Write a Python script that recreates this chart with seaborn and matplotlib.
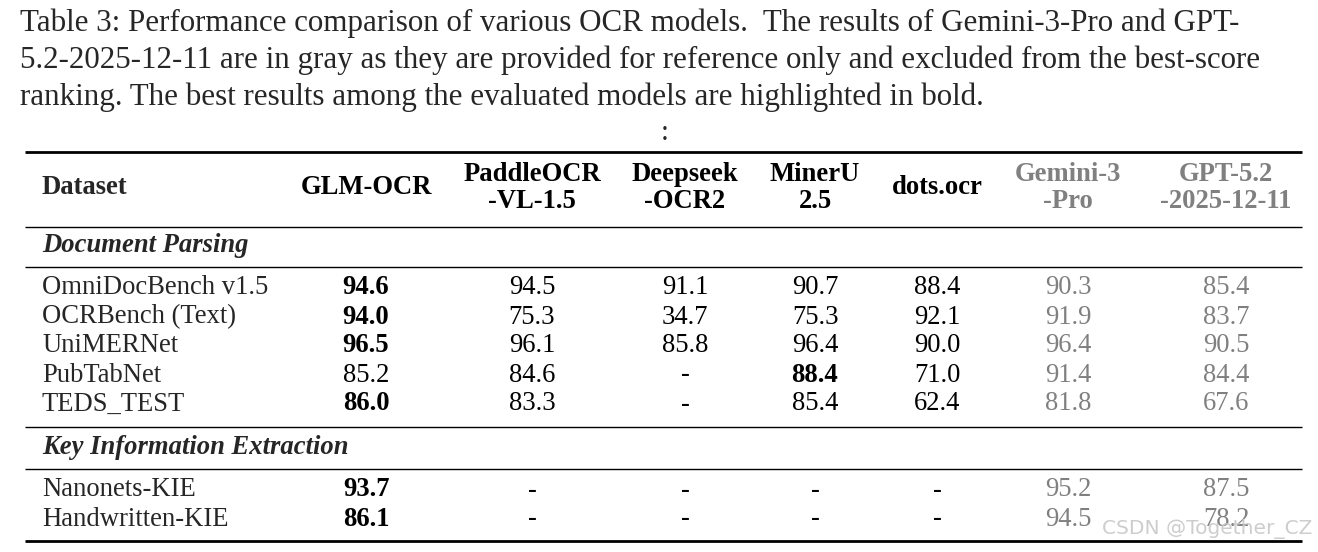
import matplotlib
matplotlib.use("Agg")
import matplotlib.pyplot as plt
import seaborn as sns

sns.set_style("white")
plt.rcParams["font.family"] = ["Liberation Serif", "DejaVu Serif"]

caption = [
    "Table 3: Performance comparison of various OCR models.  The results of Gemini-3-Pro and GPT-",
    "5.2-2025-12-11 are in gray as they are provided for reference only and excluded from the best-score",
    "ranking. The best results among the evaluated models are highlighted in bold.",
]
models = ["GLM-OCR", "PaddleOCR\n-VL-1.5", "Deepseek\n-OCR2", "MinerU\n2.5", "dots.ocr",
          "Gemini-3\n-Pro", "GPT-5.2\n-2025-12-11"]
reference_models = ["Gemini-3\n-Pro", "GPT-5.2\n-2025-12-11"]
sections = ["Document Parsing", "Key Information Extraction"]
doc_datasets = ["OmniDocBench v1.5", "OCRBench (Text)", "UniMERNet", "PubTabNet", "TEDS_TEST"]
doc_scores = [
    ["94.6", "94.5", "91.1", "90.7", "88.4", "90.3", "85.4"],
    ["94.0", "75.3", "34.7", "75.3", "92.1", "91.9", "83.7"],
    ["96.5", "96.1", "85.8", "96.4", "90.0", "96.4", "90.5"],
    ["85.2", "84.6", "-", "88.4", "71.0", "91.4", "84.4"],
    ["86.0", "83.3", "-", "85.4", "62.4", "81.8", "67.6"],
]
kie_datasets = ["Nanonets-KIE", "Handwritten-KIE"]
kie_scores = [
    ["93.7", "-", "-", "-", "-", "95.2", "87.5"],
    ["86.1", "-", "-", "-", "-", "94.5", "78.2"],
]

# layout in pixels
col_x = [366, 532, 685, 815, 937, 1068, 1226]
gray = "#808080"
fs = 19.2

fig = plt.figure(figsize=(13.18, 5.52), dpi=100)
ax = fig.add_axes([0, 0, 1, 1])
ax.set_xlim(0, 1318)
ax.set_ylim(552, 0)
ax.axis("off")

for i, line in enumerate(caption):
    ax.text(20, 23 + i * 37, line, fontsize=22.3, va="center", ha="left")
ax.text(665, 133, ":", fontsize=21, va="center", ha="center")

for y, lw in [(152, 2.0), (227, 1.0), (267, 1.0), (427, 1.0), (469, 1.0), (541, 2.0)]:
    ax.plot([25, 1302], [y, y], color="black", lw=lw, solid_capstyle="butt")

ax.text(42, 188, "Dataset", fontsize=fs, fontweight="bold", va="center")
for x, m in zip(col_x, models):
    c = gray if m in reference_models else "black"
    ax.text(x, 188, m, fontsize=fs, fontweight="bold", va="center", ha="center",
            color=c, linespacing=1.1)


def draw_block(y_sec, title, datasets, scores, y0):
    ax.text(42, y_sec, title, fontsize=fs, fontweight="bold", style="italic", va="center")
    for r, (name, row) in enumerate(zip(datasets, scores)):
        y = y0 + r * 29
        ax.text(42, y, name, fontsize=fs, va="center")
        ev = [float(v) for v in row[:5] if v != "-"]
        best = max(ev)
        for j, (x, v) in enumerate(zip(col_x, row)):
            ref = j >= 5
            bold = (not ref) and v != "-" and float(v) == best
            ax.text(x, y, v, fontsize=fs, va="center", ha="center",
                    color=gray if ref else "black",
                    fontweight="bold" if bold else "normal")


draw_block(245, sections[0], doc_datasets, doc_scores, 288)
draw_block(447, sections[1], kie_datasets, kie_scores, 490)

ax.text(1312, 529, "CSDN @Together_CZ", fontsize=14.5, color="#c8c8c8", ha="right",
        va="center", family=["DejaVu Sans"], alpha=0.9)

fig.savefig("out.png", dpi=100)
